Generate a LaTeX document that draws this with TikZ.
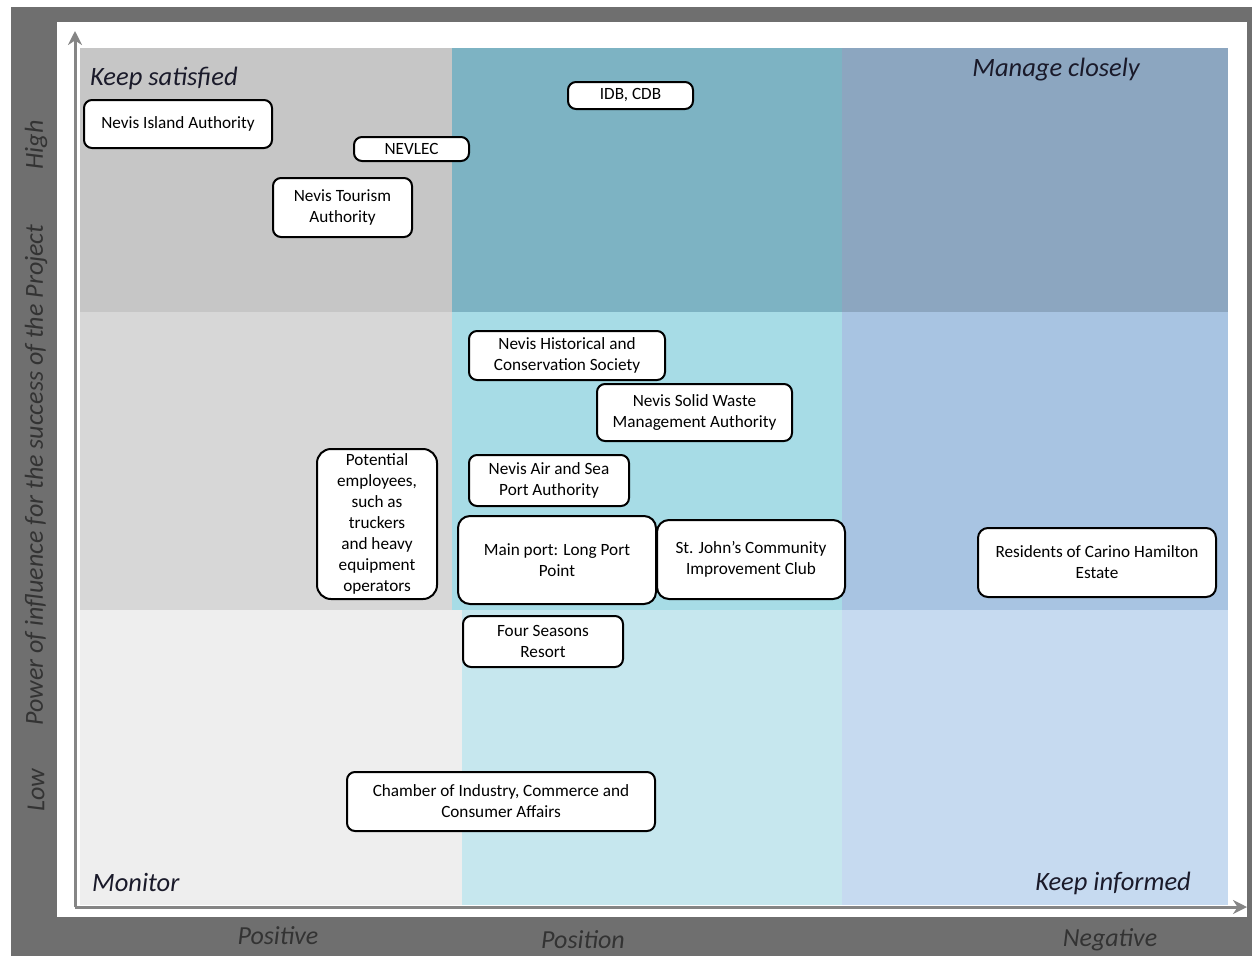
\documentclass[tikz,border=0pt]{standalone}
\usepackage{fontspec}
\setmainfont{Carlito}
\usetikzlibrary{arrows.meta}
\definecolor{frame}{HTML}{6F6F6F}
\definecolor{axtext}{HTML}{333333}
\definecolor{axline}{HTML}{858585}
\definecolor{cTL}{HTML}{C6C6C6}
\definecolor{cML}{HTML}{D7D7D7}
\definecolor{cBL}{HTML}{EEEEEE}
\definecolor{cTM}{HTML}{7DB3C3}
\definecolor{cMM}{HTML}{A7DCE6}
\definecolor{cBM}{HTML}{C6E7EE}
\definecolor{cTR}{HTML}{8CA6C0}
\definecolor{cMR}{HTML}{A8C4E2}
\definecolor{cBR}{HTML}{C6DAF0}
\definecolor{qtext}{HTML}{1A1A2A}
\tikzset{
  stake/.style={draw=black, line width=2pt, rounded corners=8pt, fill=white,
    align=center, inner sep=2pt, font=\fontsize{17.2}{21}\selectfont},
  quad/.style={font=\fontsize{26.5}{30}\selectfont\itshape, text=qtext, inner sep=0pt},
  axlab/.style={font=\fontsize{26}{30}\selectfont\itshape, text=axtext, inner sep=0pt},
  axarrow/.style={draw=axline, line width=3pt, -{Stealth[length=14pt,width=14pt]}}
}
\begin{document}
\begin{tikzpicture}[x=1pt,y=-1pt]
\useasboundingbox (0,0) rectangle (1252,956);
\fill[white] (0,0) rectangle (1252,956);
% outer frame
\fill[frame] (11,7) rectangle (1252,956);
\fill[white] (57,22) rectangle (1247,917);
% grid cells
\fill[cTL] (80,48) rectangle (452,312);
\fill[cML] (80,312) rectangle (452,610);
\fill[cBL] (80,610) rectangle (462,905);
\fill[cTM] (452,48) rectangle (842,312);
\fill[cMM] (452,312) rectangle (842,610);
\fill[cBM] (462,610) rectangle (842,905);
\fill[cTR] (842,48) rectangle (1228,312);
\fill[cMR] (842,312) rectangle (1228,610);
\fill[cBR] (842,610) rectangle (1228,905);
% axes
\coordinate (origin) at (75,907);
\coordinate (ytip) at (75,31);
\coordinate (xtip) at (1247,907);
\draw[axarrow] (origin) -- (ytip);
\draw[axarrow] (origin) -- (xtip);
% axis labels
\node[axlab] (pos) at (278,936) {Positive};
\node[axlab] (position) at (583,940) {Position};
\node[axlab] (neg) at (1110,940) {Negative};
\node[axlab, rotate=90] (high) at (36,145) {High};
\node[axlab, rotate=90] (power) at (36,475) {Power of influence for the success of the Project};
\node[axlab, rotate=90] (low) at (36,790) {Low};
% quadrant labels
\node[quad, anchor=west] (ks) at (90,78) {Keep satisfied};
\node[quad, anchor=east] (mc) at (1140,70) {Manage closely};
\node[quad, anchor=west] (mon) at (92,882) {Monitor};
\node[quad, anchor=east] (ki) at (1191,883) {Keep informed};
% stakeholders
\node[stake, minimum width=188pt, minimum height=48pt] (nia) at (178,124) {Nevis Island Authority};
\node[stake, minimum width=115pt, minimum height=24pt, inner sep=0pt] (nevlec) at (411.5,149) {NEVLEC};
\node[stake, minimum width=139pt, minimum height=59pt] (nta) at (342.5,207.5) {Nevis Tourism\\Authority};
\node[stake, minimum width=125pt, minimum height=27pt, inner sep=0pt] (idb) at (630.5,95.5) {IDB, CDB};
\node[stake, minimum width=196pt, minimum height=49pt] (nhcs) at (567,355.5) {Nevis Historical and\\Conservation Society};
\node[stake, minimum width=195pt, minimum height=57pt] (nswma) at (694.5,412.5) {Nevis Solid Waste\\Management Authority};
\node[stake, minimum width=120pt, minimum height=150pt, rounded corners=14pt] (pe) at (377,524) {Potential\\employees,\\such as\\truckers\\and heavy\\equipment\\operators};
\node[stake, minimum width=160pt, minimum height=51pt] (nasp) at (549,480.5) {Nevis Air and Sea\\Port Authority};
\node[stake, minimum width=198pt, minimum height=88pt, rounded corners=12pt] (mp) at (557,560) {Main port: Long Port\\Point};
\node[stake, minimum width=188pt, minimum height=79pt, rounded corners=12pt] (sj) at (751,559.5) {St. John’s Community\\Improvement Club};
\node[stake, minimum width=238pt, minimum height=69pt, rounded corners=10pt] (res) at (1097,562.5) {Residents of Carino Hamilton\\Estate};
\node[stake, minimum width=160pt, minimum height=51pt] (fs) at (543,641.5) {Four Seasons\\Resort};
\node[stake, minimum width=308pt, minimum height=59pt] (ch) at (501,801.5) {Chamber of Industry, Commerce and\\Consumer Affairs};
\end{tikzpicture}
\end{document}
